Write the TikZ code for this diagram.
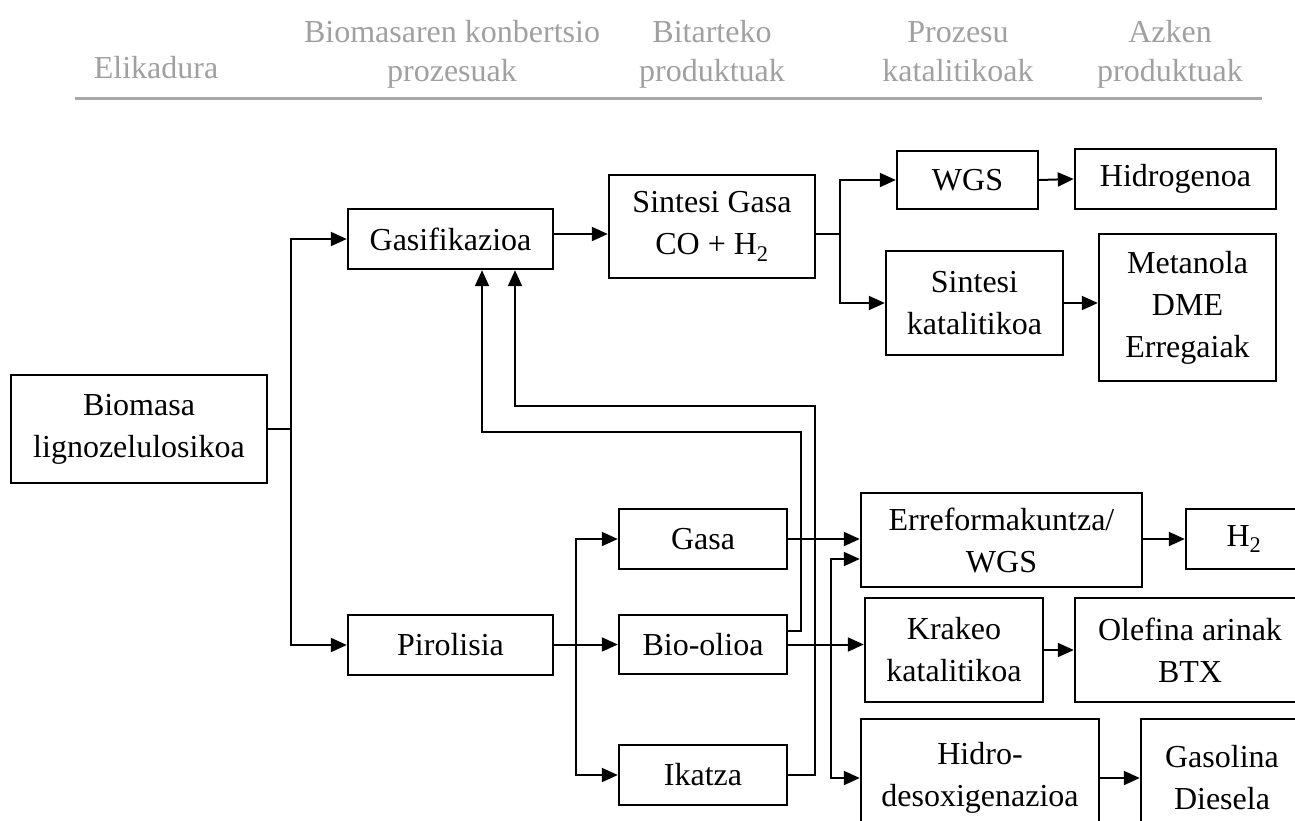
\documentclass[tikz,border=0pt]{standalone}
\usepackage{fontspec}
\setmainfont{Liberation Serif}
\usetikzlibrary{arrows.meta}
\definecolor{hdr}{RGB}{160,160,160}
\definecolor{hdrline}{RGB}{168,168,168}
\tikzset{
  bx/.style={draw, line width=2.4pt, inner sep=0pt, align=center,
    font=\fontsize{32}{42}\selectfont},
  hd/.style={text=hdr, align=center, inner sep=0pt, anchor=base,
    font=\fontsize{32}{38}\selectfont},
  conn/.style={line width=2pt, -{Triangle[length=16pt,width=14pt]}},
  wire/.style={line width=2pt}
}
\begin{document}
\begin{tikzpicture}[x=1pt,y=-1pt]
\useasboundingbox (0,0) rectangle (1295,820);
\clip (0,0) rectangle (1295,820);
% header
\node[hd] (h1) at (156,78) {Elikadura};
\node[hd] (h2a) at (452,42) {Biomasaren konbertsio};
\node[hd] (h2b) at (452,81) {prozesuak};
\node[hd] (h3a) at (712,42) {Bitarteko};
\node[hd] (h3b) at (712,81) {produktuak};
\node[hd] (h4a) at (958,42) {Prozesu};
\node[hd] (h4b) at (958,81) {katalitikoak};
\node[hd] (h5a) at (1170,42) {Azken};
\node[hd] (h5b) at (1170,81) {produktuak};
\draw[hdrline, line width=3pt] (75,98) coordinate (la) -- (1262,98) coordinate (lb);
% boxes
\node[bx, minimum width=256pt, minimum height=108pt] (bio) at (139,429) {Biomasa\\lignozelulosikoa};
\node[bx, minimum width=205pt, minimum height=60pt] (gasif) at (450.5,239) {Gasifikazioa};
\node[bx, minimum width=205pt, minimum height=60pt] (piro) at (450.5,645) {Pirolisia};
\node[bx, minimum width=206pt, minimum height=103pt] (sgas) at (712,226.5) {Sintesi Gasa\\CO + H\textsubscript{2}};
\node[bx, minimum width=141pt, minimum height=58pt] (wgs) at (967.5,180) {WGS};
\node[bx, minimum width=201pt, minimum height=60pt] (hidrog) at (1175.5,179) {Hidrogenoa};
\node[bx, minimum width=177pt, minimum height=104pt] (skat) at (974.5,303) {Sintesi\\katalitikoa};
\node[bx, minimum width=177pt, minimum height=147pt] (meta) at (1187.5,307.5) {Metanola\\DME\\Erregaiak};
\node[bx, minimum width=168pt, minimum height=60pt] (gasa) at (703,539) {Gasa};
\node[bx, minimum width=168pt, minimum height=59pt] (bioo) at (703,644.5) {Bio-olioa};
\node[bx, minimum width=168pt, minimum height=60pt] (ikatza) at (703,775) {Ikatza};
\node[bx, minimum width=281pt, minimum height=94pt] (erref) at (1001.5,540) {Erreformakuntza/\\WGS};
\node[bx, minimum width=116pt, minimum height=60pt] (h2) at (1244,539) {H\textsubscript{2}};
\node[bx, minimum width=178pt, minimum height=104pt] (krak) at (954,650) {Krakeo\\katalitikoa};
\node[bx, minimum width=230pt, minimum height=104pt] (olef) at (1190,650) {Olefina arinak\\BTX};
\node[bx, minimum width=238pt, minimum height=118pt] (hdo) at (980,778) {Hidro-\\desoxigenazioa};
\node[bx, minimum width=162pt, minimum height=118pt] (gasol) at (1222,778) {Gasolina\\Diesela};
% connectors
\coordinate (tr) at (291,429);
\draw[wire] (bio.east) -- (tr);
\draw[conn] (tr) |- (gasif.west);
\draw[conn] (tr) |- (piro.west);
\coordinate (ge) at ([yshift=5pt]gasif.east);
\draw[conn] (ge) -- (sgas.west |- ge);
\coordinate (sb) at (840,234);
\draw[wire] (sgas.east |- sb) -- (sb);
\draw[conn] (sb) |- (wgs.west);
\draw[conn] (sb) |- (skat.west);
\draw[conn] (wgs.east) -- (hidrog.west);
\draw[conn] (skat.east) -- (meta.west |- skat.east);
\coordinate (pb) at (576,645);
\draw[wire] (piro.east) -- (pb);
\draw[conn] (pb) |- (gasa.west);
\draw[conn] (pb) |- (bioo.west);
\draw[conn] (pb) |- (ikatza.west);
\draw[conn] (gasa.east) -- (erref.west |- gasa.east);
\draw[conn] (bioo.east) -- (krak.west |- bioo.east);
\coordinate (jn) at (831,645);
\coordinate (ew) at ([yshift=-19pt]erref.west);
\draw[conn] (jn) |- (ew);
\draw[conn] (jn) |- (hdo.west);
\draw[conn] (h2.west -| erref.east) -- (h2.west);
\draw[conn] (krak.east |- olef.west) -- (olef.west);
\draw[conn] (hdo.east) -- (gasol.west);
\coordinate (fa) at (801,432);
\coordinate (fb) at (815,406);
\coordinate (bo) at ([yshift=13.5pt]bioo.east);
\coordinate (gs1) at ([xshift=31.5pt]gasif.south);
\coordinate (gs2) at ([xshift=64.5pt]gasif.south);
\draw[conn] (bo) -| (fa) -| (gs1);
\draw[conn] (ikatza.east) -| (fb) -| (gs2);
\end{tikzpicture}
\end{document}
